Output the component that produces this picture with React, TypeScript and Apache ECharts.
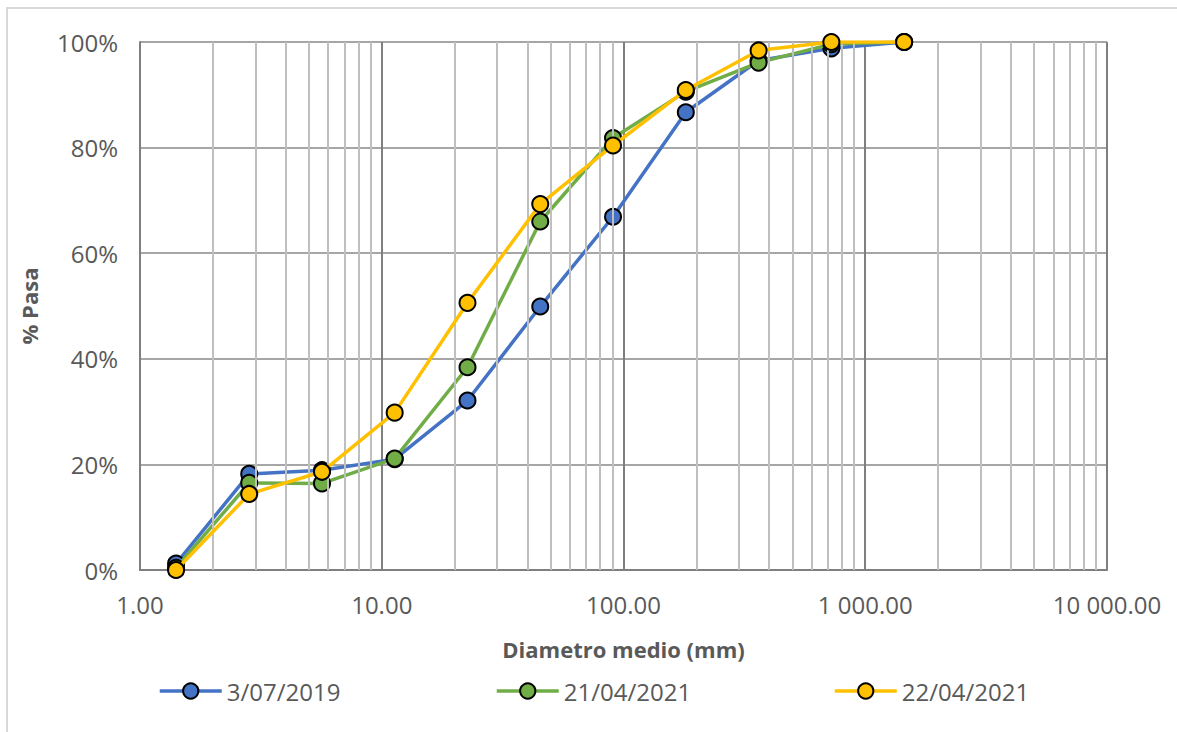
import React, { useEffect, useRef } from "react";
import * as echarts from "echarts";

const diameters = [1.41, 2.83, 5.66, 11.31, 22.63, 45.25, 90.51, 181.02, 362.04, 724.08, 1448.15];
const seriesNames = ["3/07/2019", "21/04/2021", "22/04/2021"];
const pasa2019 = [1.2, 18.2, 18.9, 21.0, 32.1, 49.9, 66.9, 86.7, 96.5, 98.8, 100];
const pasa2021a = [0.4, 16.5, 16.4, 21.1, 38.4, 66.0, 81.8, 90.6, 96.1, 99.6, 100];
const pasa2021b = [0, 14.4, 18.6, 29.8, 50.6, 69.3, 80.4, 90.9, 98.4, 100, 100];
const colors = ["#4472C4", "#70AD47", "#FFC000"];
const decades = [1, 10, 100, 1000];
const minorSteps = [2, 3, 4, 5, 6, 7, 8, 9];

const FONT = "'Open Sans', sans-serif";
const GRAY = "#595959";

function fmtX(v: number): string {
  const r = Math.round(v * 100) / 100;
  const parts = r.toFixed(2).split(".");
  parts[0] = parts[0].replace(/\B(?=(\d{3})+(?!\d))/g, " ");
  return parts.join(".");
}

export default function App() {
  const ref = useRef<HTMLDivElement>(null);
  useEffect(() => {
    document.body.style.margin = "0";
    const chart = echarts.init(ref.current!, undefined, { renderer: "svg" });
    const minorValues: number[] = [];
    decades.forEach((d) => minorSteps.forEach((m) => minorValues.push(d * m)));
    const all = [pasa2019, pasa2021a, pasa2021b];
    const legendLefts = [158, 495, 833];
    chart.setOption({
      animation: false,
      backgroundColor: "#ffffff",
      graphic: [
        {
          type: "rect",
          shape: { x: 7, y: 8, width: 1300, height: 900 },
          style: { fill: "none", stroke: "#d9d9d9", lineWidth: 2 },
          silent: true,
          z: -10,
        },
      ],
      grid: { left: 140, right: 70, top: 42, bottom: 162, containLabel: false },
      xAxis: {
        type: "log",
        logBase: 10,
        min: 1,
        max: 10000,
        name: "Diametro medio (mm)",
        nameLocation: "middle",
        nameGap: 68,
        nameTextStyle: { fontFamily: FONT, fontSize: 22, fontWeight: "bold", color: GRAY },
        axisLine: { show: true, lineStyle: { color: "#7f7f7f", width: 2 } },
        axisTick: { show: false },
        axisLabel: {
          margin: 22,
          fontFamily: FONT,
          fontSize: 24,
          color: GRAY,
          formatter: (v: number) => fmtX(v),
        },
        splitLine: { show: true, lineStyle: { color: "#7f7f7f", width: 2 } },
      },
      yAxis: {
        type: "value",
        min: 0,
        max: 100,
        interval: 20,
        name: "% Pasa",
        nameLocation: "middle",
        nameGap: 100,
        nameRotate: 90,
        nameTextStyle: { fontFamily: FONT, fontSize: 22, fontWeight: "bold", color: GRAY },
        axisLine: { show: true, lineStyle: { color: "#7f7f7f", width: 2 } },
        axisTick: { show: false },
        axisLabel: {
          margin: 22,
          fontFamily: FONT,
          fontSize: 24,
          color: GRAY,
          formatter: "{value}%",
        },
        splitLine: { show: true, lineStyle: { color: "#a6a6a6", width: 2 } },
      },
      legend: seriesNames.map((n, i) => ({
        data: [n],
        left: legendLefts[i],
        top: 679,
        padding: 0,
        itemWidth: 62,
        itemHeight: 19,
        itemGap: 10,
        lineStyle: { width: 3.5 },
        itemStyle: { borderWidth: 2, borderColor: "#000000" },
        textStyle: { fontFamily: FONT, fontSize: 24, color: GRAY },
        selectedMode: false,
      })),
      series: [
        {
          name: "_minor",
          type: "line",
          data: [],
          z: 1,
          silent: true,
          markLine: {
            silent: true,
            symbol: ["none", "none"],
            label: { show: false },
            lineStyle: { color: "#bfbfbf", width: 2, type: "solid" },
            emphasis: { disabled: true },
            data: minorValues.map((v) => ({ xAxis: v })),
          },
        },
        ...all.map((vals, i) => ({
          name: seriesNames[i],
          type: "line",
          z: 3 + i,
          data: diameters.map((d, j) => [d, vals[j]]),
          symbol: "circle",
          symbolSize: 16,
          showAllSymbol: true,
          lineStyle: { color: colors[i], width: 3.5 },
          itemStyle: { color: colors[i], borderColor: "#000000", borderWidth: 2 },
          emphasis: { disabled: true },
        })),
      ],
    });
    return () => chart.dispose();
  }, []);
  return <div ref={ref} style={{ width: 1177, height: 732 }} />;
}
